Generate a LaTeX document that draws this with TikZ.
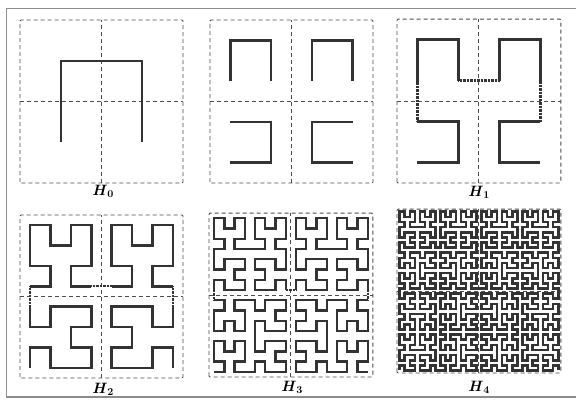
\documentclass[tikz,border=0pt]{standalone}
\usepackage{tikz}
\usetikzlibrary{positioning}
\definecolor{curvegray}{gray}{0.2}
\definecolor{guidegray}{gray}{0.3}
\definecolor{framegray}{gray}{0.55}
\tikzstyle{curve} = [line width=2.3pt, draw=curvegray]
\tikzstyle{joint} = [line width=2.3pt, draw=curvegray, dash pattern=on 0.7pt off 0.7pt]
\tikzstyle{guide} = [draw=guidegray, line width=0.9pt, dash pattern=on 4pt off 3pt]
\tikzstyle{hlabel} = [inner sep=0pt, font=\fontsize{15}{17}\selectfont]

% points of a Hilbert curve: level, x0, y0, xi, xj, yi, yj
\newcommand\hilbRec[7]{%
  \ifnum#1<1
    \pgfmathsetmacro\hpx{#2+(#4+#6)/2}%
    \pgfmathsetmacro\hpy{#3+(#5+#7)/2}%
    \xdef\hilbPts{\hilbPts (\hpx,\hpy)}%
  \else
    \begingroup
    \pgfmathtruncatemacro\hlev{#1-1}%
    \pgfmathsetmacro\hxi{#4/2}\pgfmathsetmacro\hxj{#5/2}%
    \pgfmathsetmacro\hyi{#6/2}\pgfmathsetmacro\hyj{#7/2}%
    \pgfmathsetmacro\nxi{0-(\hxi)}\pgfmathsetmacro\nxj{0-(\hxj)}%
    \pgfmathsetmacro\nyi{0-(\hyi)}\pgfmathsetmacro\nyj{0-(\hyj)}%
    \pgfmathsetmacro\hxa{#2+(\hxi)}\pgfmathsetmacro\hya{#3+(\hxj)}%
    \pgfmathsetmacro\hxb{#2+(\hxi)+(\hyi)}\pgfmathsetmacro\hyb{#3+(\hxj)+(\hyj)}%
    \pgfmathsetmacro\hxc{#2+(\hxi)+(#6)}\pgfmathsetmacro\hyc{#3+(\hxj)+(#7)}%
    \edef\hnext{%
      \noexpand\hilbRec{\hlev}{#2}{#3}{\hyi}{\hyj}{\hxi}{\hxj}%
      \noexpand\hilbRec{\hlev}{\hxa}{\hya}{\hxi}{\hxj}{\hyi}{\hyj}%
      \noexpand\hilbRec{\hlev}{\hxb}{\hyb}{\hxi}{\hxj}{\hyi}{\hyj}%
      \noexpand\hilbRec{\hlev}{\hxc}{\hyc}{\nyi}{\nyj}{\nxi}{\nxj}}%
    \hnext
    \endgroup
  \fi}

% draw one curve: style, level, x0, y0, xi, xj, yi, yj
\newcommand\hilbDraw[8]{%
  \gdef\hilbPts{}%
  \hilbRec{#2}{#3}{#4}{#5}{#6}{#7}{#8}%
  \edef\hilbCmd{\noexpand\draw[#1] plot coordinates {\hilbPts};}%
  \hilbCmd}

% the four quarter pieces of a panel: style, level
\newcommand\hilbQuads[2]{%
  \hilbDraw{#1}{#2}{0}{0}{32}{0}{0}{32}%
  \hilbDraw{#1}{#2}{0}{32}{0}{32}{32}{0}%
  \hilbDraw{#1}{#2}{32}{32}{0}{32}{32}{0}%
  \hilbDraw{#1}{#2}{64}{32}{-32}{0}{0}{-32}}

% dotted links between the pieces: half cell
\newcommand\hilbJoints[1]{%
  \coordinate (blEnd) at (#1,32-#1);
  \coordinate (tlStart) at (#1,32+#1);
  \coordinate (tlEnd) at (32-#1,32+#1);
  \coordinate (trStart) at (32+#1,32+#1);
  \coordinate (trEnd) at (64-#1,32+#1);
  \coordinate (brStart) at (64-#1,32-#1);
  \draw[joint] (blEnd) -- (tlStart);
  \draw[joint] (tlEnd) -- (trStart);
  \draw[joint] (trEnd) -- (brStart);}

% dashed frame of a panel
\newcommand\panelGrid{%
  \draw[guide, rounded corners=1pt] (0,0) rectangle (64,64);
  \draw[guide] (32,0) -- (32,64);
  \draw[guide] (0,32) -- (64,32);}

\begin{document}
\begin{tikzpicture}[x=1pt, y=-1pt]
    \useasboundingbox (0,0) rectangle (576,400);
    \fill[white] (0,0) rectangle (576,400);

    % Labels
    \node[hlabel] (labHzero) at (103,191) {\textbf{\textit{H}\textsubscript{0}}};
    \node[hlabel] (labHone) at (479,192) {\textbf{\textit{H}\textsubscript{1}}};
    \node[hlabel] (labHtwo) at (103,389) {\textbf{\textit{H}\textsubscript{2}}};
    \node[hlabel] (labHthree) at (292,387) {\textbf{\textit{H}\textsubscript{3}}};
    \node[hlabel] (labHfour) at (479,387) {\textbf{\textit{H}\textsubscript{4}}};

    % Outer frame
    \draw[framegray, line width=1.2pt] (580,8.5) -- (6.5,8.5) -- (6.5,397) -- (580,397);

    % H0
    \begin{scope}[shift={(20,183)}, x=2.547pt, y=2.547pt]
        \panelGrid
        \hilbDraw{curve, line width=2.2pt}{1}{0}{0}{0}{64}{64}{0}
    \end{scope}

    % Four pieces of H0
    \begin{scope}[shift={(210,183)}, x=2.547pt, y=2.547pt]
        \panelGrid
        \hilbQuads{curve}{1}
    \end{scope}

    % H1
    \begin{scope}[shift={(397,183)}, x=2.56pt, y=2.56pt]
        \panelGrid
        \hilbQuads{curve}{1}
        \hilbJoints{8}
    \end{scope}

    % H2
    \begin{scope}[shift={(20,378)}, x=2.547pt, y=2.547pt]
        \panelGrid
        \hilbQuads{curve, line width=2.5pt}{2}
        \hilbJoints{4}
    \end{scope}

    % H3
    \begin{scope}[shift={(209,377)}, x=2.56pt, y=2.56pt]
        \panelGrid
        \hilbQuads{curve}{3}
        \hilbJoints{2}
    \end{scope}

    % H4
    \begin{scope}[shift={(397,373)}, x=2.56pt, y=2.56pt]
        \panelGrid
        \hilbDraw{curve, line width=2.6pt}{5}{0}{0}{0}{64}{64}{0}
    \end{scope}
\end{tikzpicture}
\end{document}
